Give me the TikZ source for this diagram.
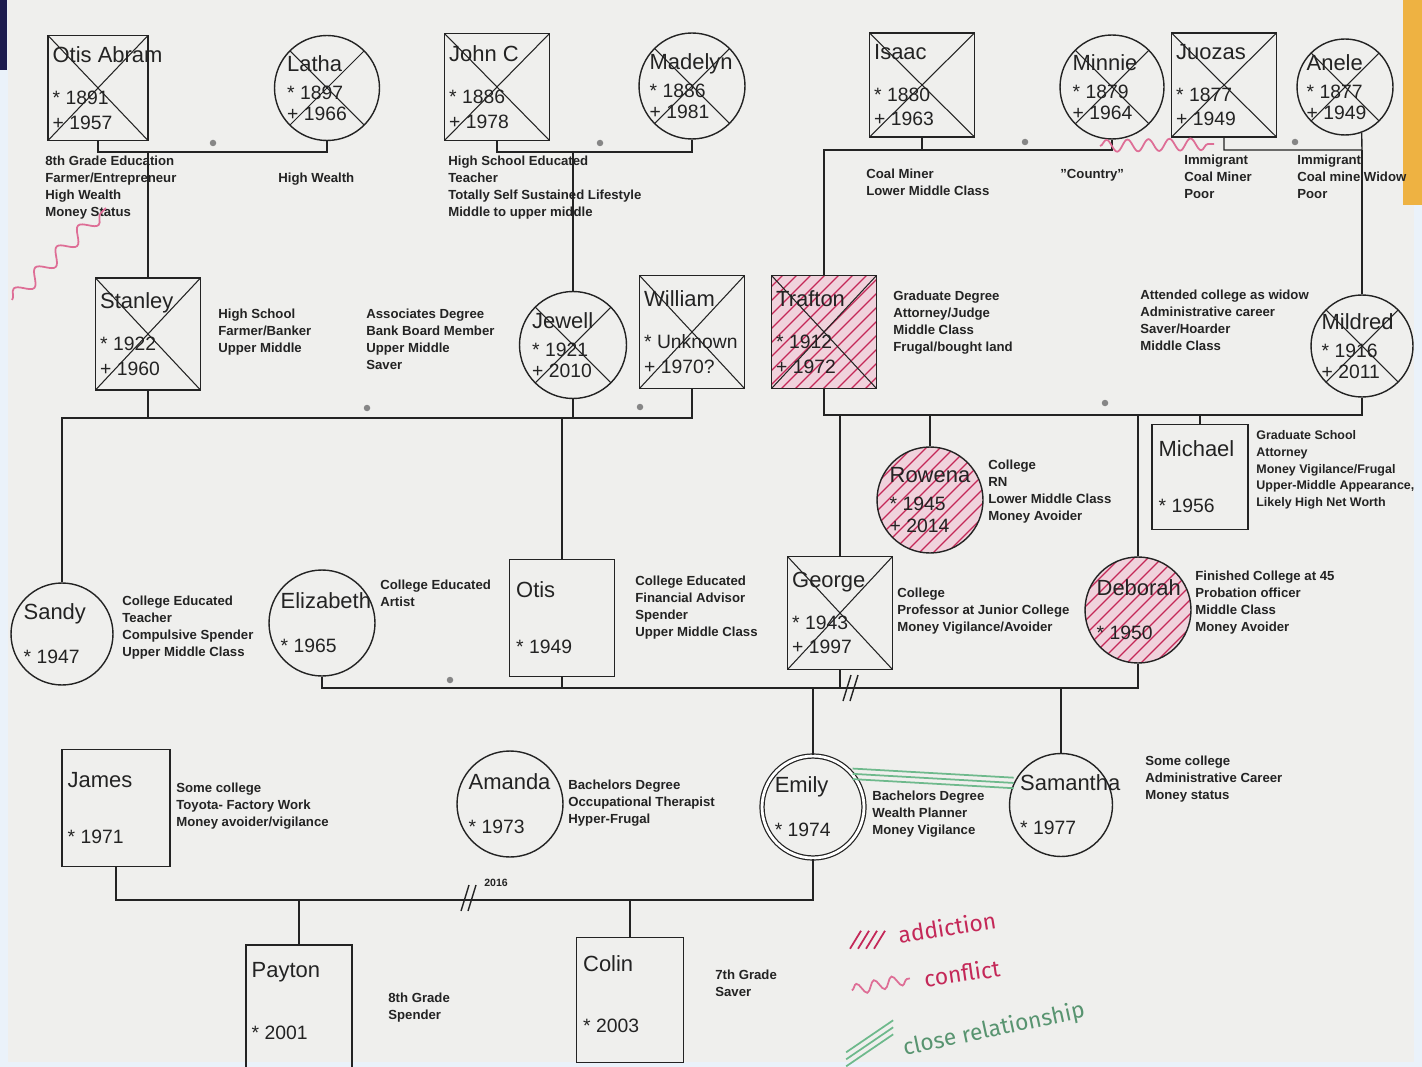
\documentclass[tikz,border=0pt]{standalone}
\usepackage{xcolor}
\usepackage{fontspec}
\setmainfont{Liberation Sans}
\newfontfamily\handfont{Fira Sans}
\usepackage{tikz}
\usetikzlibrary{positioning,calc,decorations.pathmorphing}
\definecolor{paper}{RGB}{239,239,237}
\definecolor{edgeblue}{RGB}{234,242,250}
\definecolor{tape}{RGB}{238,178,66}
\definecolor{ink}{RGB}{35,35,35}
\definecolor{addictred}{RGB}{196,40,88}
\definecolor{addictfill}{RGB}{240,210,220}
\definecolor{conflictpink}{RGB}{222,110,150}
\definecolor{closegreen}{RGB}{110,185,140}

\newcommand{\yr}[1]{{\fontsize{11}{13}\selectfont #1}}
\newcommand{\xcross}{\draw[ink, line width=0.6pt]
  (path picture bounding box.north west) -- (path picture bounding box.south east)
  (path picture bounding box.north east) -- (path picture bounding box.south west);}
\newcommand{\hatchlines}{\foreach \k in {-9,...,9}
  \draw[addictred, line width=0.7pt] ($(path picture bounding box.center)+(\k*0.28cm,0)$) ++(-2.5cm,-2.5cm) -- ++(5cm,5cm);}

\tikzset{
  male/.style={draw=ink, line width=0.8pt, minimum width=2.1cm, minimum height=2.2cm, inner sep=0pt},
  female/.style={draw=ink, line width=0.8pt, circle, minimum size=2.1cm, inner sep=0pt},
  dead/.style={path picture={\xcross}},
  addict/.style={fill=addictfill, path picture={\hatchlines}},
  deadaddict/.style={fill=addictfill, path picture={\hatchlines\xcross}},
  who/.style={anchor=west, align=left, inner sep=0pt, text=ink, font=\fontsize{12.5}{13}\selectfont},
  info/.style={anchor=north west, align=left, inner sep=0pt, text=ink, font=\fontsize{7.5}{9.6}\selectfont\bfseries},
  tie/.style={draw=ink, line width=0.8pt},
  wed/.style={circle, fill=ink!55, inner sep=0pt, minimum size=0.13cm},
  split/.style={draw=ink, line width=0.8pt},
  conflict/.style={draw=conflictpink, line width=1pt, decorate, decoration={snake, amplitude=0.12cm, segment length=0.42cm}},
  closeline/.style={draw=closegreen, line width=1pt},
  legend/.style={inner sep=0pt, font=\handfont\fontsize{13}{14}\selectfont}
}

\begin{document}
\begin{tikzpicture}[x=0.02cm, y=-0.02cm]
\useasboundingbox (0,0) rectangle (1422,1067);
% paper
\fill[edgeblue] (0,0) rectangle (1422,1067);
\fill[paper] (8,0) rectangle (1414,1062);
\fill[tape] (1403,0) rectangle (1422,205);
\fill[ink!80!blue] (0,0) rectangle (7,70);

% generation I
\node[male, dead, minimum width=2cm, minimum height=2.1cm] (otisA) at (98,88) {};
\node[who, right=0.1cm of otisA.west] (otisA-t) {Otis Abram\\[11pt]\yr{* 1891}\\[1pt]\yr{+ 1957}};
\node[female, dead] (latha) at (327,88) {};
\node[who, right=0.26cm of latha.west] (latha-t) {Latha\\[3pt]\yr{* 1897}\\[-1pt]\yr{+ 1966}};
\node[male, dead, minimum height=2.14cm] (johnC) at (497,87) {};
\node[who, right=0.1cm of johnC.west] (johnC-t) {John C\\[11pt]\yr{* 1886}\\[1pt]\yr{+ 1978}};
\node[female, dead, minimum size=2.12cm] (madelyn) at (692,86) {};
\node[who, right=0.22cm of madelyn.west] (madelyn-t) {Madelyn\\[3pt]\yr{* 1886}\\[-1pt]\yr{+ 1981}};
\node[male, dead, minimum height=2.08cm] (isaac) at (922,85) {};
\node[who, right=0.1cm of isaac.west] (isaac-t) {Isaac\\[11pt]\yr{* 1880}\\[1pt]\yr{+ 1963}};
\node[female, dead, minimum size=2.08cm] (minnie) at (1112,87) {};
\node[who, right=0.26cm of minnie.west] (minnie-t) {Minnie\\[3pt]\yr{* 1879}\\[-1pt]\yr{+ 1964}};
\node[male, dead, minimum height=2.08cm] (juozas) at (1224,85) {};
\node[who, right=0.1cm of juozas.west] (juozas-t) {Juozas\\[11pt]\yr{* 1877}\\[1pt]\yr{+ 1949}};
\node[female, dead, minimum size=1.92cm] (anele) at (1345,87) {};
\node[who, right=0.2cm of anele.west] (anele-t) {Anele\\[3pt]\yr{* 1877}\\[-1pt]\yr{+ 1949}};

\node[info] (otisA-i) at (45,156) {8th Grade Education\\Farmer/Entrepreneur\\High Wealth\\Money Status};
\node[info] (latha-i) at (278,173) {High Wealth};
\node[info] (johnC-i) at (448,156) {High School Educated\\Teacher\\Totally Self Sustained Lifestyle\\Middle to upper middle};
\node[info] (isaac-i) at (866,169) {Coal Miner\\Lower Middle Class};
\node[info] (minnie-i) at (1060,169) {"Country"};
\node[info] (juozas-i) at (1184,155) {Immigrant\\Coal Miner\\Poor};
\node[info] (anele-i) at (1297,155) {Immigrant\\Coal mine Widow\\Poor};

% generation II
\node[male, dead, minimum height=2.24cm] (stanley) at (148,334) {};
\node[who, right=0.1cm of stanley.west] (stanley-t) {Stanley\\[11pt]\yr{* 1922}\\[1pt]\yr{+ 1960}};
\node[female, dead, minimum size=2.14cm] (jewell) at (573,345) {};
\node[who, right=0.26cm of jewell.west] (jewell-t) {Jewell\\[3pt]\yr{* 1921}\\[-1pt]\yr{+ 2010}};
\node[male, dead, minimum height=2.26cm] (william) at (692,332) {};
\node[who, right=0.1cm of william.west] (william-t) {William\\[11pt]\yr{* Unknown}\\[1pt]\yr{+ 1970?}};
\node[male, deadaddict, minimum height=2.26cm] (trafton) at (824,332) {};
\node[who, right=0.1cm of trafton.west] (trafton-t) {Trafton\\[11pt]\yr{* 1912}\\[1pt]\yr{+ 1972}};
\node[female, dead, minimum size=2.04cm] (mildred) at (1362,346) {};
\node[who, right=0.22cm of mildred.west] (mildred-t) {Mildred\\[3pt]\yr{* 1916}\\[-1pt]\yr{+ 2011}};

\node[info] (stanley-i) at (218,309) {High School\\Farmer/Banker\\Upper Middle};
\node[info] (jewell-i) at (366,309) {Associates Degree\\Bank Board Member\\Upper Middle\\Saver};
\node[info] (trafton-i) at (893,291) {Graduate Degree\\Attorney/Judge\\Middle Class\\Frugal/bought land};
\node[info] (mildred-i) at (1140,290) {Attended college as widow\\Administrative career\\Saver/Hoarder\\Middle Class};

% generation III
\node[female, minimum size=2.04cm] (sandy) at (62,634) {};
\node[who, right=0.26cm of sandy.west] (sandy-t) {Sandy\\[12pt]\yr{* 1947}};
\node[female, minimum size=2.12cm] (elizabeth) at (322,623) {};
\node[who, right=0.24cm of elizabeth.west] (elizabeth-t) {Elizabeth\\[12pt]\yr{* 1965}};
\node[male, minimum height=2.34cm] (otis) at (562,618) {};
\node[who, right=0.14cm of otis.west] (otis-t) {Otis\\[19pt]\yr{* 1949}};
\node[male, dead, minimum height=2.26cm] (george) at (840,613) {};
\node[who, right=0.1cm of george.west] (george-t) {George\\[11pt]\yr{* 1943}\\[1pt]\yr{+ 1997}};
\node[female, addict, minimum size=2.12cm] (rowena) at (930,500) {};
\node[who, right=0.26cm of rowena.west] (rowena-t) {Rowena\\[3pt]\yr{* 1945}\\[-1pt]\yr{+ 2014}};
\node[male, minimum width=1.92cm, minimum height=2.1cm] (michael) at (1200,477) {};
\node[who, right=0.14cm of michael.west] (michael-t) {Michael\\[19pt]\yr{* 1956}};
\node[female, addict, minimum size=2.12cm] (deborah) at (1138,610) {};
\node[who, right=0.24cm of deborah.west] (deborah-t) {Deborah\\[12pt]\yr{* 1950}};

\node[info] (sandy-i) at (122,596) {College Educated\\Teacher\\Compulsive Spender\\Upper Middle Class};
\node[info] (elizabeth-i) at (380,580) {College Educated\\Artist};
\node[info] (otis-i) at (635,576) {College Educated\\Financial Advisor\\Spender\\Upper Middle Class};
\node[info] (rowena-i) at (988,460) {College\\RN\\Lower Middle Class\\Money Avoider};
\node[info, font=\fontsize{7.1}{9.6}\selectfont\bfseries] (michael-i) at (1256,430) {Graduate School\\Attorney\\Money Vigilance/Frugal\\Upper-Middle Appearance,\\Likely High Net Worth};
\node[info] (george-i) at (897,588) {College\\Professor at Junior College\\Money Vigilance/Avoider};
\node[info] (deborah-i) at (1195,571) {Finished College at 45\\Probation officer\\Middle Class\\Money Avoider};

% generation IV
\node[male, minimum width=2.16cm, minimum height=2.34cm] (james) at (116,808) {};
\node[who, right=0.12cm of james.west] (james-t) {James\\[19pt]\yr{* 1971}};
\node[female, minimum size=2.12cm] (amanda) at (510,804) {};
\node[who, right=0.24cm of amanda.west] (amanda-t) {Amanda\\[12pt]\yr{* 1973}};
\node[female, minimum size=2.04cm, double, double distance=1.6pt, line width=0.7pt] (emily) at (813,807) {};
\node[who, right=0.26cm of emily.west] (emily-t) {Emily\\[12pt]\yr{* 1974}};
\node[female, minimum size=2.06cm] (samantha) at (1061,805) {};
\node[who, right=0.22cm of samantha.west] (samantha-t) {Samantha\\[12pt]\yr{* 1977}};

\node[info] (james-i) at (176,783) {Some college\\Toyota- Factory Work\\Money avoider/vigilance};
\node[info] (amanda-i) at (568,780) {Bachelors Degree\\Occupational Therapist\\Hyper-Frugal};
\node[info] (emily-i) at (872,791) {Bachelors Degree\\Wealth Planner\\Money Vigilance};
\node[info] (samantha-i) at (1145,756) {Some college\\Administrative Career\\Money status};

% generation V
\node[male, minimum width=2.12cm, minimum height=2.6cm] (payton) at (299,1010) {};
\node[who, right=0.12cm of payton.west, yshift=0.18cm] (payton-t) {Payton\\[22pt]\yr{* 2001}};
\node[male, minimum width=2.14cm, minimum height=2.5cm] (colin) at (630,1000) {};
\node[who, right=0.14cm of colin.west, yshift=0.12cm] (colin-t) {Colin\\[22pt]\yr{* 2003}};
\node[info] (payton-i) at (388,993) {8th Grade\\Spender};
\node[info] (colin-i) at (715,970) {7th Grade\\Saver};

% couples and children
\coordinate (u1) at (0,152);
\draw[tie] (otisA.south) |- (latha.south |- u1) -- (latha.south);
\draw[tie] (stanley.north) -- (stanley.north |- u1);
\draw[tie] (johnC.south) |- (madelyn.south |- u1) -- (madelyn.south);
\draw[tie] (jewell.north) -- (jewell.north |- u1);
\coordinate (u3) at (0,150);
\draw[tie] (trafton.north) |- (minnie.south |- u3) -- (minnie.south);
\draw[tie] (isaac.south) -- (isaac.south |- u3);
\draw[tie] (juozas.south) |- (mildred.north |- u3) -- (anele.-70);
\draw[tie] (mildred.north) -- (mildred.north |- u3);
\node[wed] (w1) at (213,143) {};
\node[wed] (w2) at (600,143) {};
\node[wed] (w3) at (1025,142) {};
\node[wed] (w4) at (1295,142) {};

\coordinate (u5) at (0,418);
\draw[tie] (sandy.north) |- (william.south |- u5) -- (william.south);
\draw[tie] (stanley.south) -- (stanley.south |- u5);
\draw[tie] (jewell.south) -- (jewell.south |- u5);
\draw[tie] (otis.north) -- (otis.north |- u5);
\coordinate (u6) at (0,415);
\draw[tie] (trafton.south) |- (mildred.south |- u6) -- (mildred.south);
\draw[tie] (george.north) -- (george.north |- u6);
\draw[tie] (rowena.north) -- (rowena.north |- u6);
\draw[tie] (deborah.north) -- (deborah.north |- u6);
\draw[tie] (michael.north) -- (michael.north |- u6);
\node[wed] (w5) at (367,408) {};
\node[wed] (w6) at (640,407) {};
\node[wed] (w7) at (1105,403) {};

\coordinate (u7) at (0,688);
\draw[tie] (elizabeth.south) |- (otis.south |- u7) -- (otis.south);
\draw[tie] (otis.south |- u7) -| (deborah.south);
\draw[tie] (george.south) -- (george.south |- u7);
\draw[tie] (emily.north) -- (emily.north |- u7);
\draw[tie] (samantha.north) -- (samantha.north |- u7);
\node[wed] (w8) at (450,680) {};
\coordinate (d1) at (852,688);
\draw[split] ($(d1)+(-9,13)$) -- ($(d1)+(-1,-13)$) ($(d1)+(-2,13)$) -- ($(d1)+(6,-13)$);

\coordinate (u8) at (0,900);
\draw[tie] (james.south) |- (emily.south |- u8) -- (emily.south);
\draw[tie] (payton.north) -- (payton.north |- u8);
\draw[tie] (colin.north) -- (colin.north |- u8);
\coordinate (d2) at (470,898);
\draw[split] ($(d2)+(-9,13)$) -- ($(d2)+(-1,-13)$) ($(d2)+(-2,13)$) -- ($(d2)+(6,-13)$);
\node[info, anchor=west, font=\fontsize{6}{7}\selectfont\bfseries] (d2-t) at (484,883) {2016};

% relationships
\coordinate (cf1) at (1100,146);
\coordinate (cf2) at (1214,144);
\draw[conflict] (cf1) -- (cf2);
\coordinate (cf3) at (12,300);
\coordinate (cf4) at (106,208);
\draw[conflict, decoration={snake, amplitude=0.14cm, segment length=0.6cm}] (cf3) -- (cf4);
\foreach \d in {-3,0,3}
  \draw[closeline, transform canvas={yshift=\d pt}] (emily.40) -- (samantha.155);

% legend
\node[legend, text=addictred, rotate=9] (lg-add) at (947,927) {addiction};
\foreach \i in {0,...,3}
  \draw[addictred, line width=1pt] ($(lg-add.west)+(-48+8*\i,14)$) -- ++(0.22cm,0.36cm);
\node[legend, text=addictred, rotate=8] (lg-con) at (962,973) {conflict};
\draw[conflict, decoration={snake, amplitude=0.11cm, segment length=0.36cm}] ($(lg-con.west)+(-72,12)$) -- ($(lg-con.west)+(-14,0)$);
\node[legend, text=closegreen!80!black, rotate=12] (lg-cls) at (994,1030) {close relationship};
\foreach \d in {-4,0,4}
  \draw[closeline, transform canvas={yshift=\d pt}] ($(lg-cls.west)+(-57,10)$) -- ($(lg-cls.west)+(-10,-22)$);
\end{tikzpicture}
\end{document}
